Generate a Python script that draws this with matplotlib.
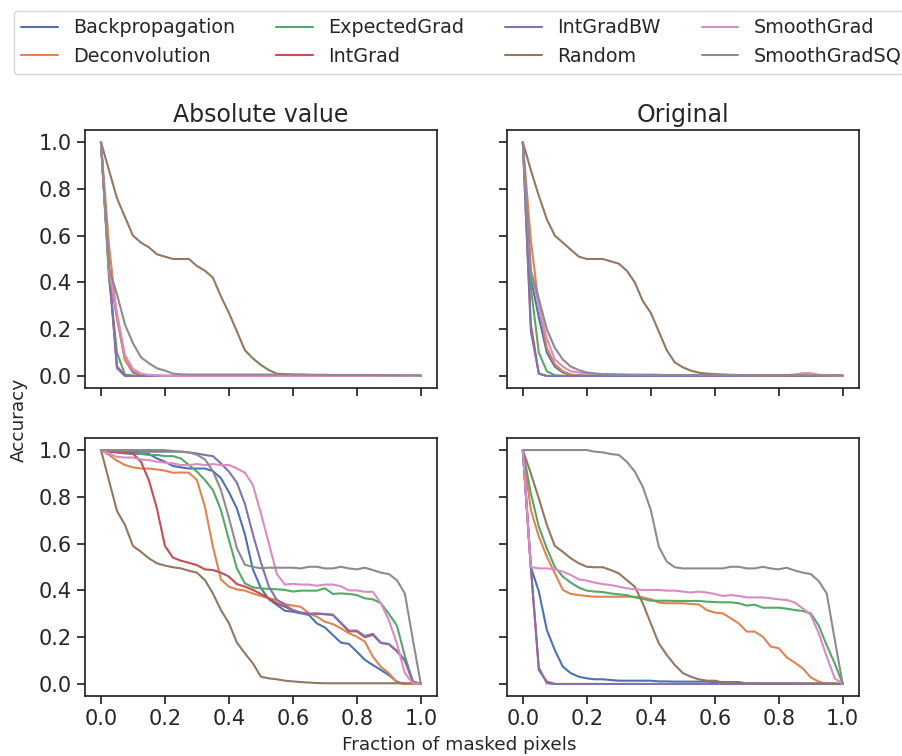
import numpy as np
import matplotlib
matplotlib.use("Agg")
import matplotlib.pyplot as plt
import seaborn as sns

sns.set_style("ticks")
plt.rcParams['font.family'] = ['DejaVu Sans']

methods = ["Backpropagation", "Deconvolution", "ExpectedGrad", "IntGrad",
           "IntGradBW", "Random", "SmoothGrad", "SmoothGradSQ"]
col_titles = ["Absolute value", "Original"]
fraction = np.linspace(0, 1, 41)

# top row, "Absolute value"
abs_a_backprop = [1.0, 0.45, 0.25, 0.07, 0.015, 0.004, 0.002, 0.001, 0.0, 0.0, 0.0, 0.0, 0.0, 0.0, 0.0, 0.0, 0.0, 0.0, 0.0, 0.0, 0.0, 0.0, 0.0, 0.0, 0.0, 0.0, 0.0, 0.0, 0.0, 0.0, 0.0, 0.0, 0.0, 0.0, 0.0, 0.0, 0.0, 0.0, 0.0, 0.0, 0.0]
abs_a_deconv = [1.0, 0.56, 0.25, 0.07, 0.02, 0.006, 0.002, 0.001, 0.0, 0.0, 0.0, 0.0, 0.0, 0.0, 0.0, 0.0, 0.0, 0.0, 0.0, 0.0, 0.0, 0.0, 0.0, 0.0, 0.0, 0.0, 0.0, 0.0, 0.0, 0.0, 0.0, 0.0, 0.0, 0.0, 0.0, 0.0, 0.0, 0.0, 0.0, 0.0, 0.0]
abs_a_expgrad = [1.0, 0.42, 0.1, 0.005, 0.001, 0.0, 0.0, 0.0, 0.0, 0.0, 0.0, 0.0, 0.0, 0.0, 0.0, 0.0, 0.0, 0.0, 0.0, 0.0, 0.0, 0.0, 0.0, 0.0, 0.0, 0.0, 0.0, 0.0, 0.0, 0.0, 0.0, 0.0, 0.0, 0.0, 0.0, 0.0, 0.0, 0.0, 0.0, 0.0, 0.0]
abs_a_intgrad = [1.0, 0.45, 0.04, 0.003, 0.0, 0.0, 0.0, 0.0, 0.0, 0.0, 0.0, 0.0, 0.0, 0.0, 0.0, 0.0, 0.0, 0.0, 0.0, 0.0, 0.0, 0.0, 0.0, 0.0, 0.0, 0.0, 0.0, 0.0, 0.0, 0.0, 0.0, 0.0, 0.0, 0.0, 0.0, 0.0, 0.0, 0.0, 0.0, 0.0, 0.0]
abs_a_intgradbw = [1.0, 0.47, 0.033, 0.0, 0.0, 0.0, 0.0, 0.0, 0.0, 0.0, 0.0, 0.0, 0.0, 0.0, 0.0, 0.0, 0.0, 0.0, 0.0, 0.0, 0.0, 0.0, 0.0, 0.0, 0.0, 0.0, 0.0, 0.0, 0.0, 0.0, 0.0, 0.0, 0.0, 0.0, 0.0, 0.0, 0.0, 0.0, 0.0, 0.0, 0.0]
abs_a_random = [1.0, 0.88, 0.76, 0.68, 0.60, 0.57, 0.55, 0.52, 0.51, 0.50, 0.50, 0.50, 0.47, 0.45, 0.42, 0.34, 0.27, 0.19, 0.11, 0.075, 0.047, 0.025, 0.01, 0.008, 0.006, 0.005, 0.005, 0.004, 0.004, 0.003, 0.003, 0.002, 0.002, 0.002, 0.001, 0.001, 0.001, 0.001, 0.0, 0.0, 0.0]
abs_a_smooth = [1.0, 0.45, 0.27, 0.09, 0.03, 0.01, 0.004, 0.002, 0.0, 0.0, 0.0, 0.0, 0.0, 0.0, 0.0, 0.0, 0.0, 0.0, 0.0, 0.0, 0.0, 0.0, 0.0, 0.0, 0.0, 0.0, 0.0, 0.0, 0.0, 0.0, 0.0, 0.0, 0.0, 0.0, 0.0, 0.0, 0.0, 0.0, 0.0, 0.0, 0.0]
abs_a_smoothsq = [1.0, 0.46, 0.35, 0.22, 0.14, 0.08, 0.054, 0.033, 0.023, 0.01, 0.007, 0.006, 0.006, 0.006, 0.006, 0.006, 0.006, 0.006, 0.006, 0.006, 0.006, 0.006, 0.006, 0.006, 0.006, 0.006, 0.005, 0.005, 0.005, 0.004, 0.004, 0.004, 0.004, 0.004, 0.004, 0.003, 0.003, 0.003, 0.003, 0.003, 0.003]

# top row, "Original"
orig_a_backprop = [1.0, 0.42, 0.25, 0.10, 0.04, 0.015, 0.005, 0.002, 0.001, 0.0, 0.0, 0.0, 0.0, 0.0, 0.0, 0.0, 0.0, 0.0, 0.0, 0.0, 0.0, 0.0, 0.0, 0.0, 0.0, 0.0, 0.0, 0.0, 0.0, 0.0, 0.0, 0.0, 0.0, 0.0, 0.0, 0.0, 0.0, 0.0, 0.0, 0.0, 0.0]
orig_a_deconv = [1.0, 0.58, 0.30, 0.12, 0.05, 0.02, 0.006, 0.002, 0.001, 0.0, 0.0, 0.0, 0.0, 0.0, 0.0, 0.0, 0.0, 0.0, 0.0, 0.0, 0.0, 0.0, 0.0, 0.0, 0.0, 0.0, 0.0, 0.0, 0.0, 0.0, 0.0, 0.0, 0.0, 0.0, 0.0, 0.0, 0.0, 0.0, 0.0, 0.0, 0.0]
orig_a_expgrad = [1.0, 0.38, 0.10, 0.02, 0.003, 0.0, 0.0, 0.0, 0.0, 0.0, 0.0, 0.0, 0.0, 0.0, 0.0, 0.0, 0.0, 0.0, 0.0, 0.0, 0.0, 0.0, 0.0, 0.0, 0.0, 0.0, 0.0, 0.0, 0.0, 0.0, 0.0, 0.0, 0.0, 0.0, 0.0, 0.0, 0.0, 0.0, 0.0, 0.0, 0.0]
orig_a_intgrad = [1.0, 0.22, 0.01, 0.0, 0.0, 0.0, 0.0, 0.0, 0.0, 0.0, 0.0, 0.0, 0.0, 0.0, 0.0, 0.0, 0.0, 0.0, 0.0, 0.0, 0.0, 0.0, 0.0, 0.0, 0.0, 0.0, 0.0, 0.0, 0.0, 0.0, 0.0, 0.0, 0.0, 0.0, 0.0, 0.0, 0.0, 0.0, 0.0, 0.0, 0.0]
orig_a_intgradbw = [1.0, 0.19, 0.01, 0.0, 0.0, 0.0, 0.0, 0.0, 0.0, 0.0, 0.0, 0.0, 0.0, 0.0, 0.0, 0.0, 0.0, 0.0, 0.0, 0.0, 0.0, 0.0, 0.0, 0.0, 0.0, 0.0, 0.0, 0.0, 0.0, 0.0, 0.0, 0.0, 0.0, 0.0, 0.0, 0.0, 0.0, 0.0, 0.0, 0.0, 0.0]
orig_a_random = [1.0, 0.88, 0.77, 0.67, 0.60, 0.57, 0.54, 0.51, 0.50, 0.50, 0.50, 0.49, 0.48, 0.45, 0.40, 0.32, 0.27, 0.19, 0.11, 0.058, 0.037, 0.023, 0.014, 0.01, 0.008, 0.006, 0.005, 0.004, 0.004, 0.003, 0.003, 0.002, 0.002, 0.002, 0.001, 0.001, 0.001, 0.001, 0.0, 0.0, 0.0]
orig_a_smooth = [1.0, 0.45, 0.30, 0.16, 0.07, 0.04, 0.02, 0.015, 0.01, 0.01, 0.008, 0.008, 0.007, 0.006, 0.005, 0.005, 0.005, 0.004, 0.004, 0.004, 0.004, 0.004, 0.004, 0.004, 0.004, 0.004, 0.004, 0.003, 0.003, 0.003, 0.003, 0.003, 0.003, 0.004, 0.006, 0.012, 0.012, 0.005, 0.003, 0.002, 0.0]
orig_a_smoothsq = [1.0, 0.45, 0.33, 0.20, 0.12, 0.07, 0.04, 0.025, 0.015, 0.01, 0.007, 0.006, 0.005, 0.005, 0.005, 0.005, 0.005, 0.005, 0.004, 0.004, 0.004, 0.004, 0.004, 0.004, 0.004, 0.004, 0.004, 0.004, 0.004, 0.004, 0.004, 0.004, 0.004, 0.004, 0.004, 0.003, 0.003, 0.003, 0.003, 0.003, 0.003]

# bottom row, "Absolute value"
abs_b_backprop = [1.0, 0.997, 0.996, 0.993, 0.99, 0.985, 0.983, 0.964, 0.95, 0.932, 0.926, 0.921, 0.921, 0.921, 0.91, 0.88, 0.82, 0.75, 0.64, 0.49, 0.41, 0.362, 0.338, 0.313, 0.309, 0.302, 0.295, 0.259, 0.242, 0.209, 0.177, 0.171, 0.138, 0.103, 0.081, 0.06, 0.038, 0.01, 0.0, 0.0, 0.0]
abs_b_deconv = [1.0, 0.979, 0.955, 0.936, 0.926, 0.921, 0.921, 0.917, 0.912, 0.903, 0.904, 0.903, 0.872, 0.757, 0.587, 0.447, 0.416, 0.404, 0.399, 0.387, 0.376, 0.366, 0.359, 0.342, 0.335, 0.33, 0.302, 0.288, 0.266, 0.256, 0.238, 0.217, 0.202, 0.181, 0.117, 0.074, 0.046, 0.006, 0.0, 0.0, 0.0]
abs_b_expgrad = [1.0, 0.996, 0.99, 0.985, 0.983, 0.983, 0.979, 0.979, 0.974, 0.974, 0.964, 0.936, 0.908, 0.872, 0.829, 0.744, 0.616, 0.494, 0.43, 0.413, 0.409, 0.406, 0.405, 0.402, 0.395, 0.399, 0.399, 0.399, 0.409, 0.385, 0.387, 0.385, 0.38, 0.366, 0.362, 0.345, 0.30, 0.25, 0.12, 0.01, 0.0]
abs_b_intgrad = [1.0, 0.993, 0.99, 0.99, 0.985, 0.95, 0.87, 0.75, 0.59, 0.54, 0.527, 0.518, 0.508, 0.49, 0.487, 0.476, 0.459, 0.427, 0.416, 0.402, 0.385, 0.366, 0.345, 0.33, 0.315, 0.305, 0.30, 0.30, 0.298, 0.295, 0.26, 0.225, 0.225, 0.2, 0.21, 0.175, 0.17, 0.14, 0.1, 0.01, 0.0]
abs_b_intgradbw = [1.0, 0.997, 0.995, 0.995, 0.994, 0.993, 0.993, 0.993, 0.993, 0.993, 0.993, 0.99, 0.985, 0.979, 0.974, 0.943, 0.908, 0.86, 0.77, 0.64, 0.52, 0.416, 0.359, 0.338, 0.316, 0.305, 0.299, 0.302, 0.299, 0.296, 0.262, 0.228, 0.228, 0.205, 0.214, 0.177, 0.171, 0.142, 0.103, 0.01, 0.0]
abs_b_random = [1.0, 0.87, 0.74, 0.68, 0.59, 0.565, 0.537, 0.516, 0.506, 0.499, 0.494, 0.484, 0.476, 0.444, 0.387, 0.316, 0.26, 0.177, 0.131, 0.088, 0.031, 0.024, 0.02, 0.014, 0.011, 0.008, 0.006, 0.004, 0.003, 0.003, 0.003, 0.003, 0.003, 0.003, 0.003, 0.003, 0.003, 0.003, 0.003, 0.003, 0.003]
abs_b_smooth = [1.0, 0.985, 0.971, 0.968, 0.968, 0.96, 0.957, 0.95, 0.946, 0.943, 0.936, 0.936, 0.94, 0.936, 0.94, 0.936, 0.936, 0.921, 0.903, 0.85, 0.73, 0.6, 0.47, 0.425, 0.428, 0.425, 0.425, 0.42, 0.425, 0.425, 0.418, 0.40, 0.40, 0.394, 0.394, 0.345, 0.273, 0.174, 0.046, 0.003, 0.0]
abs_b_smoothsq = [1.0, 1.0, 1.0, 1.0, 1.0, 1.0, 1.0, 1.0, 1.0, 0.996, 0.993, 0.99, 0.98, 0.96, 0.91, 0.83, 0.71, 0.58, 0.51, 0.50, 0.495, 0.497, 0.497, 0.497, 0.497, 0.494, 0.501, 0.501, 0.494, 0.494, 0.501, 0.494, 0.49, 0.497, 0.487, 0.476, 0.47, 0.444, 0.387, 0.19, 0.0]

# bottom row, "Original"
orig_b_backprop = [1.0, 0.50, 0.395, 0.231, 0.145, 0.074, 0.046, 0.031, 0.024, 0.02, 0.02, 0.017, 0.014, 0.014, 0.014, 0.014, 0.014, 0.011, 0.011, 0.01, 0.01, 0.01, 0.01, 0.01, 0.008, 0.008, 0.008, 0.008, 0.002, 0.002, 0.001, 0.001, 0.001, 0.001, 0.001, 0.0, 0.0, 0.0, 0.0, 0.0, 0.0]
orig_b_deconv = [1.0, 0.744, 0.63, 0.544, 0.473, 0.402, 0.385, 0.38, 0.376, 0.373, 0.373, 0.373, 0.373, 0.373, 0.373, 0.37, 0.362, 0.348, 0.345, 0.345, 0.345, 0.342, 0.34, 0.316, 0.305, 0.302, 0.281, 0.259, 0.224, 0.224, 0.202, 0.16, 0.153, 0.114, 0.091, 0.067, 0.028, 0.01, 0.0, 0.0, 0.0]
orig_b_expgrad = [1.0, 0.815, 0.672, 0.58, 0.50, 0.459, 0.433, 0.412, 0.399, 0.395, 0.393, 0.387, 0.383, 0.38, 0.37, 0.364, 0.356, 0.356, 0.356, 0.355, 0.355, 0.355, 0.355, 0.352, 0.35, 0.349, 0.349, 0.345, 0.335, 0.339, 0.326, 0.326, 0.326, 0.322, 0.316, 0.312, 0.302, 0.25, 0.165, 0.088, 0.0]
orig_b_intgrad = [1.0, 0.5, 0.06, 0.01, 0.0, 0.0, 0.0, 0.0, 0.0, 0.0, 0.0, 0.0, 0.0, 0.0, 0.0, 0.0, 0.0, 0.0, 0.0, 0.0, 0.0, 0.0, 0.0, 0.0, 0.0, 0.0, 0.0, 0.0, 0.0, 0.0, 0.0, 0.0, 0.0, 0.0, 0.0, 0.0, 0.0, 0.0, 0.0, 0.0, 0.0]
orig_b_intgradbw = [1.0, 0.5, 0.07, 0.003, 0.0, 0.0, 0.0, 0.0, 0.0, 0.0, 0.0, 0.0, 0.0, 0.0, 0.0, 0.0, 0.0, 0.0, 0.0, 0.0, 0.0, 0.0, 0.0, 0.0, 0.0, 0.0, 0.0, 0.0, 0.0, 0.0, 0.0, 0.0, 0.0, 0.0, 0.0, 0.0, 0.0, 0.0, 0.0, 0.0, 0.0]
orig_b_random = [1.0, 0.90, 0.793, 0.68, 0.59, 0.565, 0.537, 0.516, 0.501, 0.499, 0.499, 0.487, 0.473, 0.444, 0.416, 0.345, 0.259, 0.174, 0.124, 0.081, 0.047, 0.031, 0.02, 0.014, 0.014, 0.007, 0.006, 0.003, 0.003, 0.003, 0.003, 0.003, 0.003, 0.003, 0.003, 0.003, 0.003, 0.003, 0.003, 0.003, 0.0]
orig_b_smooth = [1.0, 0.50, 0.494, 0.494, 0.49, 0.48, 0.466, 0.447, 0.442, 0.433, 0.427, 0.423, 0.416, 0.409, 0.405, 0.402, 0.402, 0.402, 0.399, 0.399, 0.395, 0.391, 0.395, 0.391, 0.385, 0.376, 0.38, 0.376, 0.37, 0.37, 0.37, 0.366, 0.362, 0.359, 0.348, 0.323, 0.295, 0.217, 0.117, 0.024, 0.0]
orig_b_smoothsq = [1.0, 1.0, 1.0, 1.0, 1.0, 1.0, 1.0, 1.0, 1.0, 0.993, 0.99, 0.983, 0.979, 0.95, 0.908, 0.843, 0.744, 0.587, 0.523, 0.499, 0.494, 0.494, 0.494, 0.494, 0.494, 0.494, 0.501, 0.501, 0.494, 0.494, 0.501, 0.494, 0.49, 0.497, 0.485, 0.476, 0.47, 0.44, 0.387, 0.19, 0.0]

panels = [
    [[abs_a_backprop, abs_a_deconv, abs_a_expgrad, abs_a_intgrad,
      abs_a_intgradbw, abs_a_random, abs_a_smooth, abs_a_smoothsq],
     [orig_a_backprop, orig_a_deconv, orig_a_expgrad, orig_a_intgrad,
      orig_a_intgradbw, orig_a_random, orig_a_smooth, orig_a_smoothsq]],
    [[abs_b_backprop, abs_b_deconv, abs_b_expgrad, abs_b_intgrad,
      abs_b_intgradbw, abs_b_random, abs_b_smooth, abs_b_smoothsq],
     [orig_b_backprop, orig_b_deconv, orig_b_expgrad, orig_b_intgrad,
      orig_b_intgradbw, orig_b_random, orig_b_smooth, orig_b_smoothsq]],
]

colors = sns.color_palette("deep", 8)

fig, axes = plt.subplots(2, 2, figsize=(9.02, 7.56), sharex=True, sharey=True)
fig.subplots_adjust(left=0.0942, right=0.952, top=0.8276, bottom=0.0798,
                    wspace=0.199, hspace=0.197)

for r in range(2):
    for c in range(2):
        ax = axes[r, c]
        for k, name in enumerate(methods):
            ax.plot(fraction, panels[r][c][k], color=colors[k], lw=1.5, label=name)
        ax.tick_params(labelsize=15, width=1.25, length=6, colors=".15")
        for sp in ax.spines.values():
            sp.set_linewidth(1.25)
            sp.set_color(".15")
        if r == 0:
            ax.set_title(col_titles[c], fontsize=17, color=".15")

axes[0, 0].set_xticks([0.0, 0.2, 0.4, 0.6, 0.8, 1.0])
axes[0, 0].set_yticks([0.0, 0.2, 0.4, 0.6, 0.8, 1.0])

# legend runs past the right edge, as in the original
handles, labels = axes[0, 0].get_legend_handles_labels()
leg = fig.legend(handles, labels, loc="upper left", bbox_to_anchor=(4 / 902, 1 - 1 / 756),
                 ncol=4, fontsize=13.8, frameon=True, columnspacing=2.15,
                 handlelength=1.9)
leg.get_frame().set_edgecolor("0.8")
for t in leg.get_texts():
    t.set_color(".15")

fig.text(0.509, 0.0146, "Fraction of masked pixels", ha="center", va="center",
         fontsize=13.3, color=".15")
fig.text(0.021, 0.445, "Accuracy", ha="center", va="center", rotation=90,
         fontsize=13.3, color=".15")

fig.savefig("out.png", dpi=100)
